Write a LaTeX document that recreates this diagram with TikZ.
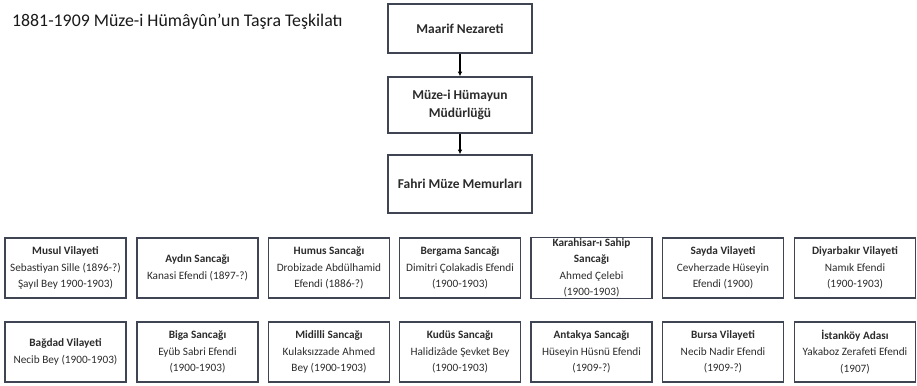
\documentclass[tikz,border=0pt]{standalone}
\usepackage{fontspec}
\setmainfont{Carlito}
\usetikzlibrary{arrows.meta}

\definecolor{cerceve}{HTML}{3F4552}
\definecolor{yazi}{HTML}{2B2B2B}

\tikzset{
  ust/.style={draw=cerceve, line width=1.3pt, align=center, minimum width=4.32cm,
    text=yazi, font=\fontsize{11.5}{15.5}\selectfont\bfseries},
  kutu/.style={draw=cerceve, line width=1.3pt, align=center, minimum width=3.63cm,
    minimum height=1.8cm, inner sep=1pt, text=yazi, font=\fontsize{9.6}{14}\selectfont},
  ok/.style={-{Latex[length=4pt,width=4pt]}, line width=0.9pt, black}
}

\begin{document}
\begin{tikzpicture}[x=0.03cm, y=-0.03cm]
    \useasboundingbox (0,0) rectangle (917,385);
    \node[anchor=west, text=black!90, font=\fontsize{15.2}{18}\selectfont] (baslik) at (8,22) {1881-1909 Müze-i Hümâyûn’un Taşra Teşkilatı};

    \node[ust, minimum height=1.47cm] (maarif)   at (460,28.5) {Maarif Nezareti};
    \node[ust, minimum height=1.68cm] (mudurluk) at (460,105)  {Müze-i Hümayun\\Müdürlüğü};
    \node[ust, minimum height=1.74cm] (fahri)    at (460,184)  {Fahri Müze Memurları};
    \draw[ok] (maarif) -- (mudurluk);
    \draw[ok] (mudurluk) -- (fahri);

    \node[kutu] (musul)     at ( 65.5,268) {\textbf{Musul Vilayeti}\\Sebastiyan Sille (1896-?)\\Şayıl Bey 1900-1903)};
    \node[kutu] (aydin)     at (197.5,268) {\textbf{Aydın Sancağı}\\Kanasi Efendi (1897-?)};
    \node[kutu] (humus)     at (329,268)   {\textbf{Humus Sancağı}\\Drobizade Abdülhamid\\Efendi (1886-?)};
    \node[kutu] (bergama)   at (460,268)   {\textbf{Bergama Sancağı}\\Dimitri Çolakadis Efendi\\(1900-1903)};
    \node[kutu] (karahisar) at (591.5,268) {\textbf{Karahisar-ı Sahip}\\\textbf{Sancağı}\\Ahmed Çelebi\\(1900-1903)};
    \node[kutu] (sayda)     at (723,268)   {\textbf{Sayda Vilayeti}\\Cevherzade Hüseyin\\Efendi (1900)};
    \node[kutu] (diyarbakir) at (855,268)  {\textbf{Diyarbakır Vilayeti}\\Namık Efendi\\(1900-1903)};

    \node[kutu] (bagdad)    at ( 65.5,352) {\textbf{Bağdad Vilayeti}\\Necib Bey (1900-1903)};
    \node[kutu] (biga)      at (197.5,352) {\textbf{Biga Sancağı}\\Eyüb Sabri Efendi\\(1900-1903)};
    \node[kutu] (midilli)   at (329,352)   {\textbf{Midilli Sancağı}\\Kulaksızzade Ahmed\\Bey (1900-1903)};
    \node[kutu] (kudus)     at (460,352)   {\textbf{Kudüs Sancağı}\\Halidizâde Şevket Bey\\(1900-1903)};
    \node[kutu] (antakya)   at (591.5,352) {\textbf{Antakya Sancağı}\\Hüseyin Hüsnü Efendi\\(1909-?)};
    \node[kutu] (bursa)     at (723,352)   {\textbf{Bursa Vilayeti}\\Necib Nadir Efendi\\(1909-?)};
    \node[kutu] (istankoy)  at (855,352)   {\textbf{İstanköy Adası}\\Yakaboz Zerafeti Efendi\\(1907)};
\end{tikzpicture}
\end{document}
